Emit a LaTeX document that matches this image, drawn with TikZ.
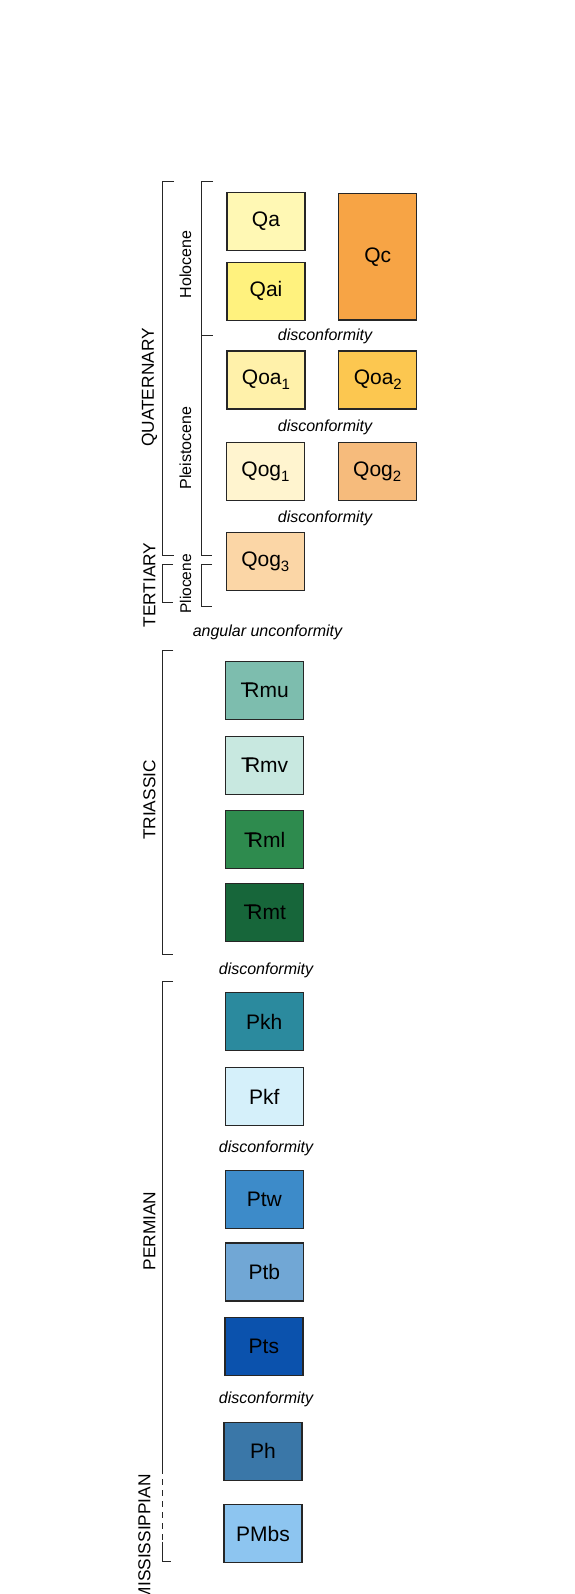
\documentclass[tikz,border=0pt]{standalone}
\usepackage{fontspec}
\setmainfont{Liberation Sans}
\definecolor{cQa}{HTML}{FFF8B4}
\definecolor{cQai}{HTML}{FFF27E}
\definecolor{cQc}{HTML}{F7A445}
\definecolor{cQoaA}{HTML}{FFF1AA}
\definecolor{cQoaB}{HTML}{FCC750}
\definecolor{cQogA}{HTML}{FFF4CF}
\definecolor{cQogB}{HTML}{F6BB7C}
\definecolor{cQogC}{HTML}{FBD6A6}
\definecolor{cTRmu}{HTML}{7DBDAE}
\definecolor{cTRmv}{HTML}{C8E8E0}
\definecolor{cTRml}{HTML}{2E8B4E}
\definecolor{cTRmt}{HTML}{17663A}
\definecolor{cPkh}{HTML}{2B8A9E}
\definecolor{cPkf}{HTML}{D5F0FA}
\definecolor{cPtw}{HTML}{3D8BC9}
\definecolor{cPtb}{HTML}{71A7D5}
\definecolor{cPts}{HTML}{0B52AD}
\definecolor{cPh}{HTML}{3A77A8}
\definecolor{cPMbs}{HTML}{8DC5F0}
\newcommand\TRsym{T\kern-0.43em R}
\newcommand\subnum[1]{\raisebox{-0.22em}{\fontsize{15}{15}\selectfont #1}}
\begin{document}
\begin{tikzpicture}[x=1pt,y=-1pt,
  unitbox/.style={draw=black!85, line width=1.3pt, minimum width=78pt, minimum height=58pt,
    inner sep=0pt, font=\fontsize{21}{21}\selectfont},
  bracket/.style={draw=black!85, line width=1pt},
  period/.style={rotate=90, inner sep=0pt, font=\fontsize{17.3}{17.3}\selectfont},
  epoch/.style={rotate=90, inner sep=0pt, font=\fontsize{16}{16}\selectfont},
  contact/.style={inner sep=0pt, font=\fontsize{16}{16}\selectfont\itshape}]
\useasboundingbox[fill=white] (0,0) rectangle (574,1594);

% Quaternary / Tertiary units
\node[unitbox, fill=cQa] (Qa) at (266,221.3) {Qa};
\node[unitbox, fill=cQai] (Qai) at (266,291.3) {Qai};
\node[unitbox, fill=cQc, minimum height=126.7pt] (Qc) at (377.8,256.7) {Qc};
\node[unitbox, fill=cQoaA] (Qoa1) at (266,379.9) {Qoa\subnum{1}};
\node[unitbox, fill=cQoaB] (Qoa2) at (377.8,379.9) {Qoa\subnum{2}};
\node[unitbox, fill=cQogA] (Qog1) at (265.5,471.4) {Qog\subnum{1}};
\node[unitbox, fill=cQogB] (Qog2) at (377.2,471.4) {Qog\subnum{2}};
\node[unitbox, fill=cQogC] (Qog3) at (265.3,561.7) {Qog\subnum{3}};

% Triassic units
\node[unitbox, fill=cTRmu] (TRmu) at (264.7,690.3) {\TRsym mu};
\node[unitbox, fill=cTRmv] (TRmv) at (264.7,765.3) {\TRsym mv};
\node[unitbox, fill=cTRml] (TRml) at (264.7,839.5) {\TRsym ml};
\node[unitbox, fill=cTRmt] (TRmt) at (264.7,912.2) {\TRsym mt};

% Permian units
\node[unitbox, fill=cPkh] (Pkh) at (264.3,1021.5) {Pkh};
\node[unitbox, fill=cPkf] (Pkf) at (264.3,1096.7) {Pkf};
\node[unitbox, fill=cPtw] (Ptw) at (264.3,1199.2) {Ptw};
\node[unitbox, fill=cPtb] (Ptb) at (264.3,1272) {Ptb};
\node[unitbox, fill=cPts] (Pts) at (263.9,1346.2) {Pts};
\node[unitbox, fill=cPh] (Ph) at (263,1451.2) {Ph};
\node[unitbox, fill=cPMbs] (PMbs) at (263,1533.5) {PMbs};

% contacts
\node[contact] (d1) at (325,336) {disconformity};
\node[contact] (d2) at (325,427) {disconformity};
\node[contact] (d3) at (325,518.5) {disconformity};
\node[contact] (au) at (267.5,632) {angular unconformity};
\node[contact] (d4) at (266,970.5) {disconformity};
\node[contact] (d5) at (266,1148.5) {disconformity};
\node[contact] (d6) at (266,1399) {disconformity};

% period / epoch labels
\node[period] (quat) at (149.5,387.5) {QUATERNARY};
\node[period] (tert) at (149.5,585) {TERTIARY};
\node[period] (tria) at (149.5,800) {TRIASSIC};
\node[period] (perm) at (149.5,1231) {PERMIAN};
\node[period] (miss) at (144.5,1537.7) {MISSISSIPPIAN};
\node[epoch] (holo) at (185.5,264.3) {Holocene};
\node[epoch] (pleis) at (185.5,448) {Pleistocene};
\node[epoch, font=\fontsize{15.5}{15.5}\selectfont] (plio) at (185.5,584) {Pliocene};

% brackets
\draw[bracket] (174,181.7) -- (162.5,181.7) -- (162.5,555.7) -- (174,555.7);
\draw[bracket] (213,182) -- (201,182) -- (201,555.7) -- (212,555.7);
\draw[bracket] (201,335.7) -- (213,335.7);
\draw[bracket] (173,564) -- (162.5,564) -- (162.5,602.3) -- (173,602.3);
\draw[bracket] (212,564) -- (201,564) -- (201,606) -- (212,606);
\draw[bracket] (173.3,650.7) -- (162.5,650.7) -- (162.5,954) -- (173.3,954);
\draw[bracket] (173,981.7) -- (162,981.7) -- (162,1468);
\draw[bracket, dash pattern=on 6pt off 5pt] (162,1468) -- (162,1541.7);
\draw[bracket] (162,1541.7) -- (162,1561.7) -- (171,1561.7);
\end{tikzpicture}
\end{document}
